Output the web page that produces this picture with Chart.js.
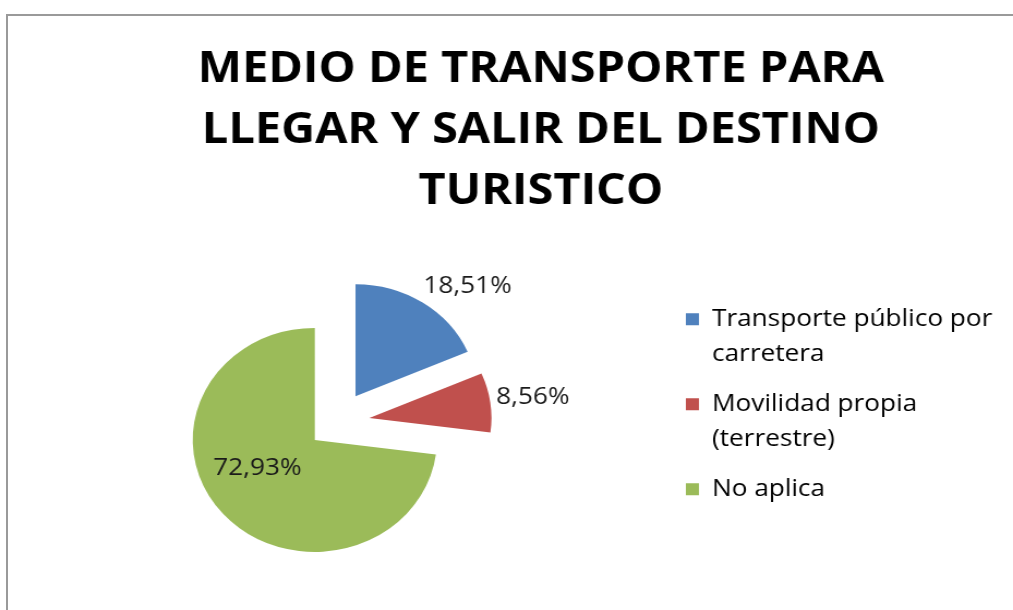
<!DOCTYPE html>
<html>
<head>
<meta charset="utf-8">
<title>Medio de transporte</title>
<script src="https://cdn.jsdelivr.net/npm/chart.js@4.4.1/dist/chart.umd.min.js"></script>
<style>
    html, body { margin: 0; padding: 0; background: #fff; overflow: hidden; }
    #wrap { position: relative; width: 1013px; height: 610px; overflow: hidden; }
    #frame {
        position: absolute; left: 6px; top: 14px; width: 1100px; height: 700px;
        border-left: 2px solid #9a9a9a; border-top: 2px solid #9a9a9a;
    }
    #chart { position: absolute; left: 0; top: 0; }
</style>
</head>
<body>
<div id="wrap">
    <div id="frame"></div>
    <!-- the source picture is stretched sideways a little, so the canvas is too -->
    <canvas id="chart" width="940" height="610" style="width:1025px;height:610px"></canvas>
</div>
<script>
(function() {
    'use strict';

    // Chart data
    var chartTitle = ['MEDIO DE TRANSPORTE PARA', 'LLEGAR Y SALIR DEL DESTINO', 'TURISTICO'];
    var categories = [
        ['Transporte público por', 'carretera'],
        ['Movilidad propia', '(terrestre)'],
        ['No aplica']
    ];
    var shares = [18.51, 8.56, 72.93];
    var sliceColors = ['#4F81BD', '#C0504D', '#9BBB59'];

    /**
     * Exploded pie: move the pie a bit inside its area, then pull every
     * slice out of the centre by a fixed distance
     * (Chart.js "offset" also grows the radius, so do a plain shift instead)
     */
    var explodeSlices = {
        id: 'explodeSlices',
        afterDatasetUpdate: function(chart, args, opts) {
            args.meta.data.forEach(function(arc) {
                arc.x += opts.shiftX;
            });
        },
        beforeDatasetDraw: function(chart, args, opts) {
            var ctx = chart.ctx;
            args.meta.data.forEach(function(arc, i) {
                var p = arc.getProps(['startAngle', 'endAngle'], true);
                var mid = (p.startAngle + p.endAngle) / 2;
                var d = opts.distance[i];
                ctx.save();
                ctx.translate(Math.cos(mid) * d, Math.sin(mid) * d);
                arc.draw(ctx, chart.chartArea);
                ctx.restore();
            });
            return false;
        }
    };

    /**
     * Percent labels next to / inside each slice
     */
    var sliceLabels = {
        id: 'sliceLabels',
        afterDatasetsDraw: function(chart, args, opts) {
            var ctx = chart.ctx;
            var meta = chart.getDatasetMeta(0);
            ctx.save();
            ctx.font = opts.font;
            ctx.fillStyle = opts.color;
            ctx.textAlign = 'center';
            ctx.textBaseline = 'middle';
            meta.data.forEach(function(arc, i) {
                var p = arc.getProps(['x', 'y', 'startAngle', 'endAngle', 'outerRadius'], true);
                var place = opts.placement[i];
                var angle = (p.startAngle + p.endAngle) / 2 + place.turn * Math.PI / 180;
                var dist = p.outerRadius * place.dist;
                var text = shares[i].toFixed(2).replace('.', ',') + '%';
                ctx.fillText(text, p.x + Math.cos(angle) * dist, p.y + Math.sin(angle) * dist);
            });
            ctx.restore();
        }
    };

    var ctx = document.getElementById('chart').getContext('2d');

    new Chart(ctx, {
        type: 'pie',
        data: {
            labels: categories,
            datasets: [{
                data: shares,
                backgroundColor: sliceColors,
                borderWidth: 0,
                radius: 112
            }]
        },
        options: {
            responsive: false,
            animation: false,
            layout: {
                padding: { left: 72, right: 20, top: 0, bottom: 58 }
            },
            plugins: {
                title: {
                    display: true,
                    text: chartTitle,
                    color: '#000000',
                    font: { family: 'Open Sans', size: 43, weight: 'bold', lineHeight: 1.42 },
                    padding: { top: 39, bottom: 70 }
                },
                legend: {
                    position: 'right',
                    align: 'start',
                    fullSize: false,
                    labels: {
                        boxWidth: 12,
                        boxHeight: 12,
                        padding: 15,
                        color: '#000000',
                        font: { family: 'Open Sans', size: 24, lineHeight: 1.46 }
                    }
                },
                tooltip: { enabled: false },
                explodeSlices: {
                    shiftX: -34,
                    distance: [31, 30, 27]
                },
                sliceLabels: {
                    font: '24px "Open Sans"',
                    color: '#1a1a1a',
                    placement: [
                        { dist: 1.62, turn: 8 },
                        { dist: 1.62, turn: 0 },
                        { dist: 0.77, turn: 9 }
                    ]
                }
            }
        },
        plugins: [explodeSlices, sliceLabels]
    });
})();
</script>
</body>
</html>
